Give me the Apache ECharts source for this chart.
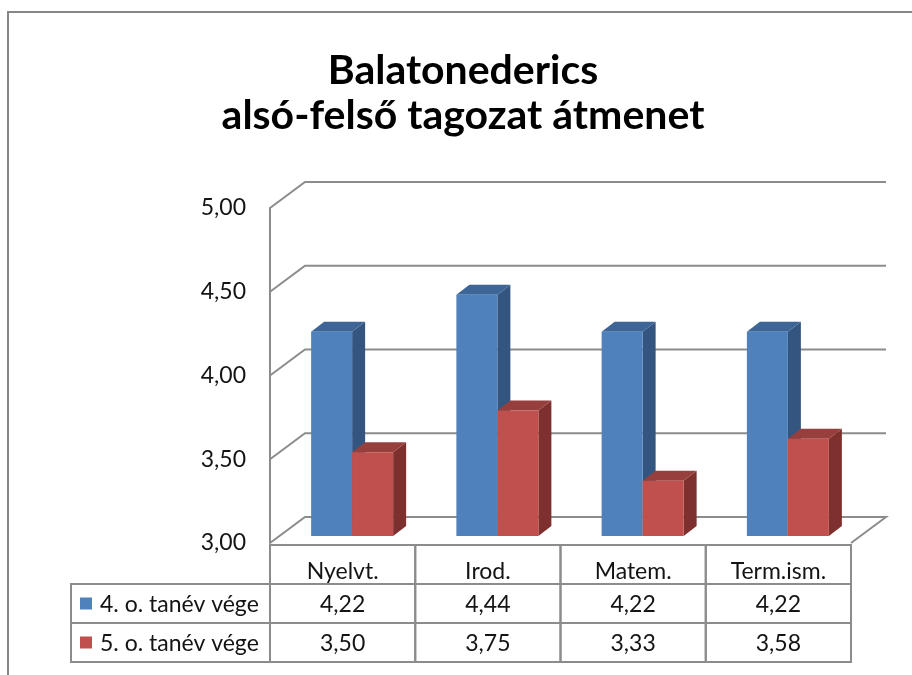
<!DOCTYPE html>
<html>
<head>
<meta charset="utf-8">
<script src="https://cdn.jsdelivr.net/npm/echarts@6/dist/echarts.min.js"></script>
<style>
  html, body { margin: 0; padding: 0; background: #fff; }
  #chart { width: 912px; height: 675px; }
</style>
</head>
<body>
<div id="chart"></div>
<script>
const categories = ['Nyelvt.', 'Irod.', 'Matem.', 'Term.ism.'];
const seriesNames = ['4. o. tanév vége', '5. o. tanév vége'];
const grade4 = [4.22, 4.44, 4.22, 4.22];
const grade5 = [3.50, 3.75, 3.33, 3.58];
const yTicks = [3.0, 3.5, 4.0, 4.5, 5.0];

const FONT = 'Lato, "Open Sans", sans-serif';
const LINE = '#8c8c8c';
const TEXT = '#141414';
const faces = [
  { front: '#4f81bd', side: '#34557f', top: '#3d6696' },
  { front: '#c0504d', side: '#7d302e', top: '#973f3c' }
];

// fake 3D: back wall and bar plane are shifted from the front plane
const WALL = [35, -26];
const BAR_PLANE = [9.5, -7];
const BAR_W = 41;
const BAR_DEPTH = [13, -10];

// data table under the plot
const TABLE_TOP = 545;
const ROW_H = 39;
const LEGEND_LEFT = 71;
const TABLE_FONT = '23px ' + FONT;

const fmt = v => v.toFixed(2).replace('.', ',');

const chart = echarts.init(document.getElementById('chart'));

function renderWalls(params, api) {
  const cs = params.coordSys;
  const v = api.value(1);
  const y = api.coord([0, v])[1];
  const xl = cs.x, xr = cs.x + cs.width;
  const pts = [[xl, y], [xl + WALL[0], y + WALL[1]], [xr + WALL[0], y + WALL[1]]];
  if (v === yTicks[0]) pts.push([xr, y]);
  return {
    type: 'polyline',
    shape: { points: pts },
    style: { stroke: LINE, lineWidth: 2, fill: null }
  };
}

function makeBarRenderer(s) {
  return function (params, api) {
    const i = api.value(0);
    const base = api.coord([i, yTicks[0]]);
    const cx = base[0] + BAR_PLANE[0];
    const yb = base[1] + BAR_PLANE[1];
    const yt = api.coord([i, api.value(1)])[1] + BAR_PLANE[1];
    const x0 = cx + (s - 1) * BAR_W, x1 = x0 + BAR_W;
    const dx = BAR_DEPTH[0], dy = BAR_DEPTH[1];
    const c = faces[s];
    return {
      type: 'group',
      children: [
        { type: 'polygon', shape: { points: [[x1, yt], [x1 + dx, yt + dy], [x1 + dx, yb + dy], [x1, yb]] }, style: { fill: c.side } },
        { type: 'polygon', shape: { points: [[x0, yt], [x0 + dx, yt + dy], [x1 + dx, yt + dy], [x1, yt]] }, style: { fill: c.top } },
        { type: 'rect', shape: { x: x0, y: yt, width: BAR_W, height: yb - yt }, style: { fill: c.front } }
      ]
    };
  };
}

function renderTable(params, api) {
  const i = api.value(0);
  const cx = api.coord([i, yTicks[0]])[0];
  const w = api.size([1, 0])[0];
  const x0 = cx - w / 2;
  const texts = [categories[i], fmt(grade4[i]), fmt(grade5[i])];
  const children = [];
  texts.forEach((t, r) => {
    const y0 = TABLE_TOP + r * ROW_H;
    children.push({
      type: 'rect',
      shape: { x: x0, y: y0, width: w, height: ROW_H },
      style: { fill: null, stroke: LINE, lineWidth: 2 }
    });
    children.push({
      type: 'text',
      style: {
        text: t, x: cx, y: y0 + ROW_H / 2 + (r === 0 ? 7 : 1),
        align: 'center', verticalAlign: 'middle',
        font: TABLE_FONT, fill: TEXT
      }
    });
  });
  return { type: 'group', children };
}

// legend column of the data table
const legendCells = [];
seriesNames.forEach((name, s) => {
  const y0 = TABLE_TOP + (s + 1) * ROW_H;
  legendCells.push(
    { type: 'rect', shape: { x: LEGEND_LEFT, y: y0, width: 270 - LEGEND_LEFT, height: ROW_H }, style: { fill: null, stroke: LINE, lineWidth: 2 } },
    { type: 'rect', shape: { x: 80, y: y0 + ROW_H / 2 - 6, width: 12, height: 12 }, style: { fill: faces[s].front } },
    { type: 'text', style: { text: name, x: 100, y: y0 + ROW_H / 2 + 1, align: 'left', verticalAlign: 'middle', font: TABLE_FONT, fill: TEXT } }
  );
});

const option = {
  animation: false,
  title: {
    text: 'Balatonederics\nalsó-felső tagozat átmenet',
    left: 458,
    top: 43,
    textAlign: 'center',
    textStyle: { fontFamily: FONT, fontWeight: 'bold', fontSize: 41, lineHeight: 45, color: '#000' }
  },
  grid: { left: 270, top: 208, width: 581, height: 335 },
  xAxis: {
    type: 'category',
    data: categories,
    axisLine: { show: false },
    axisTick: { show: false },
    axisLabel: { show: false }
  },
  yAxis: {
    type: 'value',
    min: 3,
    max: 5,
    interval: 0.5,
    axisLine: { show: true, lineStyle: { color: LINE, width: 2 } },
    axisTick: { show: false },
    splitLine: { show: false },
    axisLabel: { formatter: fmt, margin: 24, fontFamily: FONT, fontSize: 23, color: TEXT }
  },
  graphic: [
    { type: 'rect', shape: { x: 8, y: 12, width: 1000, height: 1000 }, style: { fill: null, stroke: '#878787', lineWidth: 2 } },
    ...legendCells
  ],
  series: [
    { type: 'custom', name: 'walls', renderItem: renderWalls, data: yTicks.map(t => [0, t]), z: 1, silent: true },
    { type: 'custom', name: seriesNames[0], renderItem: makeBarRenderer(0), data: grade4.map((v, i) => [i, v]), z: 2 },
    { type: 'custom', name: seriesNames[1], renderItem: makeBarRenderer(1), data: grade5.map((v, i) => [i, v]), z: 3 },
    { type: 'custom', name: 'table', renderItem: renderTable, data: categories.map((c, i) => [i]), z: 4, silent: true }
  ]
};

chart.setOption(option);
</script>
</body>
</html>
